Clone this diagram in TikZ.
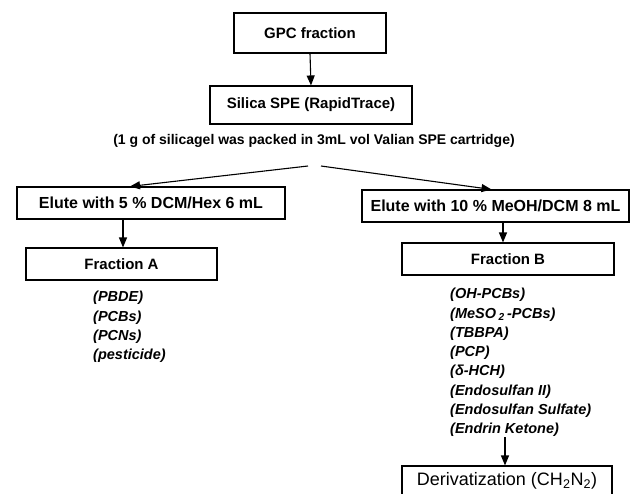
\documentclass[tikz,border=0pt]{standalone}
\usepackage{fontspec}
\setmainfont{Liberation Sans}
\usetikzlibrary{arrows.meta}
\tikzset{
  box/.style={draw=black, line width=1.1pt, inner sep=0pt, align=center, font=\bfseries\fontsize{15}{18}\selectfont},
  elute/.style={box, font=\bfseries\fontsize{16}{19}\selectfont},
  arr/.style={line width=1.1pt, -{Triangle[length=10pt,width=8pt]}},
  listtxt/.style={inner sep=0pt, align=left, anchor=north west, font=\bfseries\itshape\fontsize{14.5}{19.3}\selectfont},
}
\begin{document}
\begin{tikzpicture}[x=1pt,y=-1pt]
\clip (0,0) rectangle (635,493);
\fill[white] (0,0) rectangle (635,493);

\node[box, minimum width=152pt, minimum height=40pt] (gpc) at (310,33) {GPC fraction};
\node[box, minimum width=202pt, minimum height=38pt] (silica) at (311,105) {Silica SPE (RapidTrace)};
\node[inner sep=0pt, font=\bfseries\fontsize{14}{16}\selectfont] (cap) at (314,141) {(1 g of silicagel was packed in 3mL vol Valian SPE cartridge)};

\node[elute, minimum width=268pt, minimum height=32pt] (elA) at (151,203) {Elute with 5 \% DCM/Hex 6 mL};
\node[elute, minimum width=267pt, minimum height=32pt] (elB) at (495.5,206) {Elute with 10 \% MeOH/DCM 8 mL};

\node[box, minimum width=191pt, minimum height=32pt] (fracA) at (121.5,264) {Fraction A};
\node[box, minimum width=212pt, minimum height=32pt] (fracB) at (508,259) {Fraction B};

\node[listtxt] (listA) at (93,291) {(PBDE)\\(PCBs)\\(PCNs)\\(pesticide)};
\node[listtxt] (listB) at (450,288) {(OH-PCBs)\\(MeSO\,\textsubscript{2}\,-PCBs)\\(TBBPA)\\(PCP)\\(δ-HCH)\\(Endosulfan II)\\(Endosulfan Sulfate)\\(Endrin Ketone)};

\node[box, font=\fontsize{18}{21}\selectfont, minimum width=210pt, minimum height=30pt] (deriv) at (507,481) {Derivatization (CH\textsubscript{2}N\textsubscript{2})};

\coordinate (splitL) at (308,166);
\coordinate (splitR) at (321,166);
\coordinate (inA) at ([xshift=1.5pt]fracA.north);
\coordinate (inB) at ([xshift=-5pt]fracB.north);
\coordinate (inD) at ([xshift=-2pt]deriv.north);

\draw[arr] (gpc.south) -- (silica.north);
\draw[arr] (splitL) -- ([xshift=-21pt]elA.north);
\draw[arr] (splitR) -- ([xshift=-4pt]elB.north);
\draw[arr] (elA.south -| inA) -- (inA);
\draw[arr] (elB.south -| inB) -- (inB);
\draw[arr] (listB.south -| inD) -- (inD);
\end{tikzpicture}
\end{document}
